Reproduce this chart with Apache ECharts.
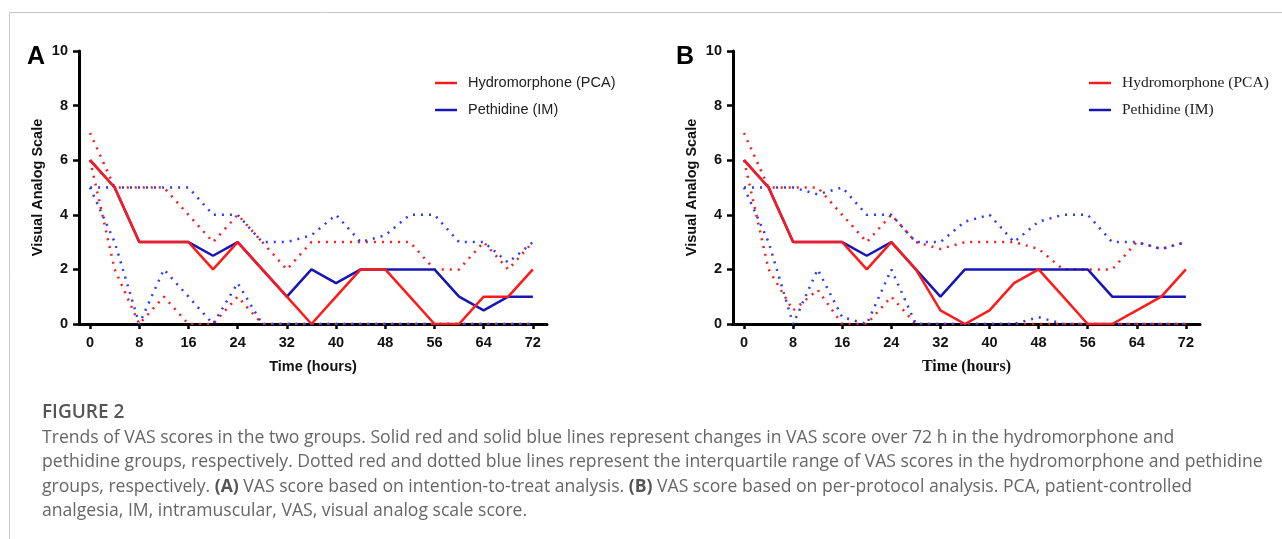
<!DOCTYPE html>
<html>
<head>
<meta charset="utf-8">
<title>Trends of VAS scores</title>
<script src="https://cdn.jsdelivr.net/npm/echarts@6/dist/echarts.min.js"></script>
<style>
  html, body { margin: 0; padding: 0; background: #fff; }
  #container { width: 1282px; height: 539px; }
</style>
</head>
<body>
<div id="container"></div>
<script>
// time points (hours)
const hours = [0, 4, 8, 12, 16, 20, 24, 28, 32, 36, 40, 44, 48, 52, 56, 60, 64, 68, 72];
const xTicks = [0, 8, 16, 24, 32, 40, 48, 56, 64, 72];

// panel A - intention-to-treat
const hydroA    = [6, 5, 3, 3, 3, 2, 3, 2, 1, 0, 1, 2, 2, 1, 0, 0, 1, 1, 2];
const pethA     = [6, 5, 3, 3, 3, 2.5, 3, 2, 1, 2, 1.5, 2, 2, 2, 2, 1, 0.5, 1, 1];
const hydroQ3A  = [7, 5, 5, 5, 4, 3, 4, 3, 2, 3, 3, 3, 3, 3, 2, 2, 3, 2, 3];
const hydroQ1A  = [6, 2, 0, 1, 0, 0, 1, 0, 0, 0, 0, 0, 0, 0, 0, 0, 0, 0, 0];
const pethQ3A   = [5, 5, 5, 5, 5, 4, 4, 3, 3, 3.25, 4, 3, 3.25, 4, 4, 3, 3, 2.25, 3];
const pethQ1A   = [5, 3, 0, 2, 1, 0, 1.5, 0, 0, 0, 0, 0, 0, 0, 0, 0, 0, 0, 0];

// panel B - per-protocol
const hydroB    = [6, 5, 3, 3, 3, 2, 3, 2, 0.5, 0, 0.5, 1.5, 2, 1, 0, 0, 0.5, 1, 2];
const pethB     = [6, 5, 3, 3, 3, 2.5, 3, 2, 1, 2, 2, 2, 2, 2, 2, 1, 1, 1, 1];
const hydroQ3B  = [7, 5, 5, 5, 4, 3, 4, 3, 2.75, 3, 3, 3, 2.75, 2, 2, 2, 3, 2.75, 3];
const hydroQ1B  = [6, 2, 0.5, 1.25, 0, 0, 1, 0, 0, 0, 0, 0, 0, 0, 0, 0, 0, 0, 0];
const pethQ3B   = [5, 5, 5, 4.75, 5, 4, 4, 3, 3, 3.75, 4, 3, 3.75, 4, 4, 3, 3, 2.75, 3];
const pethQ1B   = [5, 3, 0, 2, 0.25, 0, 2, 0, 0, 0, 0, 0, 0.25, 0, 0, 0, 0, 0, 0];

const names = ['Hydromorphone (PCA)', 'Pethidine (IM)'];

const RED = '#ff1a1a';
const BLUE = '#1616b4';
const BLUE_DOT = '#2b3cff';

// pair hours with values
function pts(values) {
  return hours.map((h, i) => [h, values[i]]);
}

function solid(name, values, color, idx) {
  return {
    name: name, type: 'line', xAxisIndex: idx, yAxisIndex: idx,
    data: pts(values), symbol: 'none', z: 5,
    lineStyle: { color: color, width: 2.5 }, itemStyle: { color: color }
  };
}

function dotted(name, values, color, idx) {
  return {
    name: name, type: 'line', xAxisIndex: idx, yAxisIndex: idx,
    data: pts(values), symbol: 'none', z: 3,
    lineStyle: { color: color, width: 2.5, type: [2, 6] }
  };
}

function xAxisOf(idx, serif) {
  return {
    type: 'value', gridIndex: idx, min: -1.8, max: 74.3,
    name: 'Time (hours)', nameLocation: 'middle', nameGap: 35, nameMoveOverlap: false,
    nameTextStyle: serif
      ? { fontFamily: 'Liberation Serif', fontWeight: 'bold', fontSize: 16, color: '#111' }
      : { fontFamily: 'Liberation Sans', fontWeight: 'bold', fontSize: 14.5, color: '#111' },
    axisLine: { show: true, onZero: false, lineStyle: { color: '#000', width: 3 } },
    axisTick: { show: true, length: 5, customValues: xTicks, lineStyle: { color: '#000', width: 2.5 } },
    axisLabel: { customValues: xTicks, margin: 11, fontFamily: 'Liberation Sans', fontWeight: 'bold', fontSize: 14.5, color: '#111' },
    splitLine: { show: false }
  };
}

function yAxisOf(idx) {
  return {
    type: 'value', gridIndex: idx, min: 0, max: 10, interval: 2,
    name: 'Visual Analog Scale', nameLocation: 'middle', nameGap: 34, nameMoveOverlap: false,
    nameTextStyle: { fontFamily: 'Liberation Sans', fontWeight: 'bold', fontSize: 14.5, color: '#111' },
    axisLine: { show: true, onZero: false, lineStyle: { color: '#000', width: 3 } },
    axisTick: { show: true, length: 6, lineStyle: { color: '#000', width: 2.5 } },
    axisLabel: { margin: 11, fontFamily: 'Liberation Sans', fontWeight: 'bold', fontSize: 14.5, color: '#111' },
    splitLine: { show: false }
  };
}

function legendOf(left, serif) {
  return {
    data: names, left: left, top: 75, orient: 'vertical', padding: 0,
    icon: 'rect', itemWidth: 22, itemHeight: 2.5, itemGap: 11,
    selectedMode: false,
    textStyle: {
      fontFamily: serif ? 'Liberation Serif' : 'Liberation Sans',
      fontSize: serif ? 15.5 : 14.5, color: '#222', lineHeight: 16,
      padding: [0, 0, 0, 6]
    }
  };
}

// caption lines, broken as in the figure
const captionTitle = 'FIGURE 2';
const captionLines = [
  'Trends of VAS scores in the two groups. Solid red and solid blue lines represent changes in VAS score over 72 h in the hydromorphone and',
  'pethidine groups, respectively. Dotted red and dotted blue lines represent the interquartile range of VAS scores in the hydromorphone and pethidine',
  'groups, respectively. {b|(A)} VAS score based on intention-to-treat analysis. {b|(B)} VAS score based on per-protocol analysis. PCA, patient-controlled',
  'analgesia, IM, intramuscular, VAS, visual analog scale score.'
];

function buildGraphics() {
  const g = [
    { type: 'line', shape: { x1: 9.5, y1: 12.5, x2: 1282, y2: 12.5 }, style: { stroke: '#c8c8c8', lineWidth: 1 } },
    { type: 'line', shape: { x1: 9.5, y1: 12.5, x2: 9.5, y2: 539 }, style: { stroke: '#c8c8c8', lineWidth: 1 } },
    { type: 'text', x: 27, y: 57, style: { text: 'A', fontFamily: 'Liberation Sans', fontWeight: 'bold', fontSize: 25, fill: '#000', verticalAlign: 'middle' } },
    { type: 'text', x: 676, y: 57, style: { text: 'B', fontFamily: 'Liberation Sans', fontWeight: 'bold', fontSize: 25, fill: '#000', verticalAlign: 'middle' } },
    { type: 'text', x: 42, y: 413, style: { text: captionTitle, fontFamily: 'Open Sans', fontWeight: 600, fontSize: 19, fill: '#555', verticalAlign: 'middle' } }
  ];
  captionLines.forEach((line, i) => {
    g.push({
      type: 'text', x: 42, y: 437.5 + i * 24.5,
      style: {
        text: line, fontFamily: 'Open Sans', fontSize: 17.6, fill: '#666', verticalAlign: 'middle',
        rich: { b: { fontFamily: 'Open Sans', fontWeight: 'bold', fontSize: 17.6, fill: '#555' } }
      }
    });
  });
  return g;
}

const myChart = echarts.init(document.getElementById('container'), null, { renderer: 'canvas' });

const option = {
  animation: false,
  backgroundColor: '#fff',
  grid: [
    { left: 79, top: 51, width: 468, height: 273 },
    { left: 733, top: 51, width: 467, height: 273 }
  ],
  xAxis: [xAxisOf(0, false), xAxisOf(1, true)],
  yAxis: [yAxisOf(0), yAxisOf(1)],
  legend: [legendOf(435, false), legendOf(1089, true)],
  graphic: buildGraphics(),
  series: [
    dotted('hydro Q3 A', hydroQ3A, RED, 0),
    dotted('hydro Q1 A', hydroQ1A, RED, 0),
    dotted('peth Q3 A', pethQ3A, BLUE_DOT, 0),
    dotted('peth Q1 A', pethQ1A, BLUE_DOT, 0),
    solid(names[1], pethA, BLUE, 0),
    solid(names[0], hydroA, RED, 0),
    dotted('hydro Q3 B', hydroQ3B, RED, 1),
    dotted('hydro Q1 B', hydroQ1B, RED, 1),
    dotted('peth Q3 B', pethQ3B, BLUE_DOT, 1),
    dotted('peth Q1 B', pethQ1B, BLUE_DOT, 1),
    solid(names[1], pethB, BLUE, 1),
    solid(names[0], hydroB, RED, 1)
  ]
};

myChart.setOption(option);
</script>
</body>
</html>
